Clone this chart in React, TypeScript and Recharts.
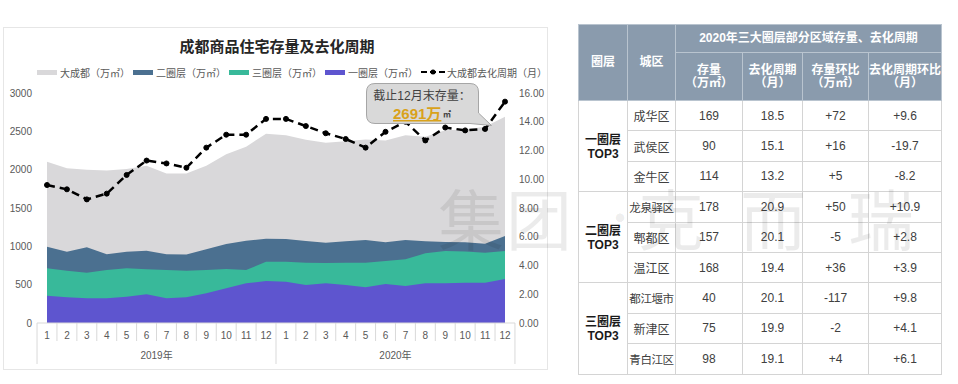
import React from "react"
import { ComposedChart, Area, Line, XAxis, YAxis, Legend } from "recharts"

// 左侧图：月份、年份
const monthLabels = ["1", "2", "3", "4", "5", "6", "7", "8", "9", "10", "11", "12", "1", "2", "3", "4", "5", "6", "7", "8", "9", "10", "11", "12"]
const yearLabels = ["2019年", "2020年"]

// 存量（万㎡）
const totalStock = [2103, 2020, 2000, 1990, 2010, 2050, 1950, 1950, 2050, 2200, 2300, 2470, 2450, 2390, 2350, 2370, 2395, 2380, 2450, 2430, 2515, 2525, 2560, 2691]
const ring2Stock = [995, 930, 987, 896, 930, 943, 896, 892, 961, 1030, 1073, 1100, 1095, 1069, 1047, 1065, 1082, 1052, 1082, 1065, 1056, 1052, 1034, 1134]
const ring3Stock = [713, 682, 656, 691, 713, 700, 691, 682, 691, 704, 691, 800, 800, 787, 783, 787, 787, 808, 830, 909, 939, 934, 917, 939]
const ring1Stock = [356, 335, 322, 322, 343, 374, 322, 335, 387, 452, 517, 548, 539, 496, 517, 496, 465, 509, 483, 517, 517, 526, 526, 574]
// 去化周期（月）
const cycleMonths = [9.6, 9.3, 8.6, 9.0, 10.3, 11.3, 11.1, 10.8, 12.2, 13.1, 13.1, 14.2, 14.2, 13.7, 13.2, 12.8, 12.2, 13.3, 14.0, 12.7, 13.6, 13.4, 13.5, 15.4]

const leftTicks = [0, 500, 1000, 1500, 2000, 2500, 3000]
const rightTicks = [0, 2, 4, 6, 8, 10, 12, 14, 16]

// 右侧表
const tableTitle = "2020年三大圈层部分区域存量、去化周期"
const subHeads = [["存量", "（万㎡）"], ["去化周期", "（月）"], ["存量环比", "（万㎡）"], ["去化周期环比", "（月）"]]
const rings = ["一圈层", "二圈层", "三圈层"]
const districts = ["成华区", "武侯区", "金牛区", "龙泉驿区", "郫都区", "温江区", "都江堰市", "新津区", "青白江区"]
const stock = ["169", "90", "114", "178", "157", "168", "40", "75", "98"]
const cycle = ["18.5", "15.1", "13.2", "20.9", "20.1", "19.4", "20.1", "19.9", "19.1"]
const stockChg = ["+72", "+16", "+5", "+50", "-5", "+36", "-117", "-2", "+4"]
const cycleChg = ["+9.6", "-19.7", "-8.2", "+10.9", "+2.8", "+3.9", "+9.8", "+4.1", "+6.1"]

const areaSeries = [
  { key: "total", name: "大成都（万㎡）", color: "#d9d8da" },
  { key: "ring2", name: "二圈层（万㎡）", color: "#4b7090" },
  { key: "ring3", name: "三圈层（万㎡）", color: "#38b99a" },
  { key: "ring1", name: "一圈层（万㎡）", color: "#5e55cf" },
]
const lineName = "大成都去化周期（月）"

const chartData = monthLabels.map((m, i) => ({
  m,
  total: totalStock[i],
  ring2: ring2Stock[i],
  ring3: ring3Stock[i],
  ring1: ring1Stock[i],
  cycle: cycleMonths[i],
}))

const FONT = "'Liberation Sans', 'Noto Sans CJK SC', sans-serif"
const CJK = "'Noto Sans CJK SC', sans-serif"
const PLOT_LEFT = 37
const PLOT_RIGHT = 515
const X_PAD = 10
const STEP = (PLOT_RIGHT - PLOT_LEFT - 2 * X_PAD) / (monthLabels.length - 1)

function MonthTick(props: any) {
  const { x, y, payload, index } = props
  const left = x - STEP / 2
  const right = x + STEP / 2
  const yearStart = index % 12 === 0
  const last = index === monthLabels.length - 1
  return (
    <g>
      <line x1={left} x2={left} y1={y} y2={y + (yearStart ? 41 : 18)} stroke="#d9d9d9" />
      {last && <line x1={right} x2={right} y1={y} y2={y + 41} stroke="#d9d9d9" />}
      <text x={x} y={y + 16} textAnchor="middle" fontSize={10} fill="#595959" fontFamily={FONT}>
        {payload.value}
      </text>
      {index % 12 === 5 && (
        <text x={right} y={y + 36} textAnchor="middle" fontSize={10} fill="#595959" fontFamily={FONT}>
          {yearLabels[Math.floor(index / 12)]}
        </text>
      )}
    </g>
  )
}

function ChartLegend() {
  return (
    <div style={{ display: "flex", alignItems: "center", height: 18, fontSize: 10, color: "#595959", fontFamily: CJK, whiteSpace: "nowrap" }}>
      {areaSeries.map((s) => (
        <span key={s.key} style={{ display: "flex", alignItems: "center", marginRight: 3 }}>
          <span style={{ display: "inline-block", width: 20, height: 5, background: s.color, marginRight: 3 }} />
          {s.name}
        </span>
      ))}
      <span style={{ display: "flex", alignItems: "center" }}>
        <svg width={24} height={8} style={{ marginRight: 2 }}>
          <line x1={0} y1={4} x2={24} y2={4} stroke="#000" strokeWidth={2} strokeDasharray="6 3" />
          <circle cx={12} cy={4} r={2.5} fill="#000" />
        </svg>
        {lineName}
      </span>
    </div>
  )
}

function Balloon() {
  return (
    <svg width={150} height={60} style={{ position: "absolute", left: 360, top: 80 }}>
      <path
        d="M15,3.5 H110 Q118.5,3.5 118.5,12 V33 L131.5,45.5 L110,43.5 H15 Q6.5,43.5 6.5,35 V12 Q6.5,3.5 15,3.5 Z"
        fill="#d9d9d9"
        stroke="#a6a6a6"
        strokeWidth={1}
      />
      <text x={62} y={20} textAnchor="middle" fontSize={12} fill="#404040" fontFamily={FONT}>
        截止12月末存量：
      </text>
      <text x={33} y={39} fontSize={15} fontWeight="bold" fill="#d9a21b" fontFamily={FONT} textDecoration="underline">
        2691万
      </text>
      <text x={83} y={37} fontSize={8} fontWeight="bold" fill="#404040" fontFamily={FONT}>
        ㎡
      </text>
    </svg>
  )
}

const hd: React.CSSProperties = {
  background: "#8a9bad",
  color: "#fff",
  fontWeight: "bold",
  fontSize: 12,
  lineHeight: "13px",
  border: "1px solid #b9c4cf",
  padding: 0,
  textAlign: "center",
  whiteSpace: "nowrap",
}
const td: React.CSSProperties = {
  fontSize: 12,
  color: "#404040",
  border: "1px solid #d4d4d4",
  padding: 0,
  textAlign: "center",
  height: 29.4,
  whiteSpace: "nowrap",
}

function DataTable() {
  const colWidths = [49, 48, 67, 60, 66, 73]
  return (
    <table
      style={{ position: "absolute", left: 578, top: 24, width: 363, borderCollapse: "collapse", tableLayout: "fixed", fontFamily: FONT }}
    >
      <colgroup>
        {colWidths.map((w, i) => (
          <col key={i} style={{ width: w }} />
        ))}
      </colgroup>
      <thead>
        <tr style={{ height: 28 }}>
          <th rowSpan={2} style={hd}>圈层</th>
          <th rowSpan={2} style={hd}>城区</th>
          <th colSpan={4} style={hd}>{tableTitle}</th>
        </tr>
        <tr style={{ height: 48 }}>
          {subHeads.map(([a, b]) => (
            <th key={a} style={hd}>
              {a}
              <br />
              {b}
            </th>
          ))}
        </tr>
      </thead>
      <tbody>
        {districts.map((d, i) => (
          <tr key={d}>
            {i % 3 === 0 && (
              <td rowSpan={3} style={{ ...td, fontWeight: "bold", color: "#1a1a1a", lineHeight: "14px", fontFamily: CJK }}>
                {rings[i / 3]}
                <br />
                <span style={{ fontFamily: FONT }}>TOP3</span>
              </td>
            )}
            <td style={{ ...td, fontFamily: CJK, fontSize: d.length > 3 ? 11.5 : 12, letterSpacing: d.length > 3 ? -0.4 : 0 }}>{d}</td>
            <td style={td}>{stock[i]}</td>
            <td style={td}>{cycle[i]}</td>
            <td style={td}>{stockChg[i]}</td>
            <td style={td}>{cycleChg[i]}</td>
          </tr>
        ))}
      </tbody>
    </table>
  )
}

export default function App() {
  return (
    <div style={{ position: "relative", width: 958, height: 384, background: "#fff", overflow: "hidden" }}>
      <style>{"body{margin:0}"}</style>
      <div style={{ position: "absolute", left: 3, top: 27, width: 543, height: 341, border: "1px solid #e6e6e6" }} />
      <div
        style={{ position: "absolute", left: 3, top: 35, width: 548, textAlign: "center", fontSize: 15, fontWeight: "bold", color: "#262626", fontFamily: CJK }}
      >
        成都商品住宅存量及去化周期
      </div>
      <div style={{ position: "absolute", left: 0, top: 0 }}>
        <ComposedChart width={548} height={384} data={chartData} margin={{ top: 75, right: 0, bottom: 11, left: 0 }}>
          <Legend verticalAlign="top" content={() => <ChartLegend />} wrapperStyle={{ top: 63, left: 37, width: 500 }} />
          <XAxis
            dataKey="m"
            interval={0}
            padding={{ left: X_PAD, right: X_PAD }}
            height={50}
            tickSize={0}
            tickMargin={0}
            tickLine={false}
            axisLine={{ stroke: "#d9d9d9" }}
            tick={<MonthTick />}
          />
          <YAxis
            yAxisId="left"
            width={PLOT_LEFT}
            domain={[0, 3000]}
            ticks={leftTicks}
            axisLine={false}
            tickLine={false}
            tickSize={0}
            tickMargin={5}
            tick={{ fontSize: 10, fill: "#595959", fontFamily: FONT }}
          />
          <YAxis
            yAxisId="right"
            orientation="right"
            width={548 - PLOT_RIGHT}
            domain={[0, 16]}
            ticks={rightTicks}
            axisLine={false}
            tickLine={false}
            tickSize={0}
            tickMargin={4}
            tickFormatter={(v: number) => v.toFixed(2)}
            tick={{ fontSize: 10, fill: "#595959", fontFamily: FONT, textAnchor: "start" }}
          />
          {areaSeries.map((s) => (
            <Area
              key={s.key}
              yAxisId="left"
              type="linear"
              dataKey={s.key}
              name={s.name}
              fill={s.color}
              fillOpacity={1}
              stroke="none"
              isAnimationActive={false}
            />
          ))}
          <Line
            yAxisId="right"
            type="linear"
            dataKey="cycle"
            name={lineName}
            stroke="#000"
            strokeWidth={2.5}
            strokeDasharray="8 5"
            dot={{ r: 2.5, fill: "#000", stroke: "#000", strokeWidth: 1, strokeDasharray: "" }}
            activeDot={false}
            isAnimationActive={false}
          />
        </ComposedChart>
      </div>
      <Balloon />
      <DataTable />
      <div
        style={{ position: "absolute", left: 0, top: 0, width: 958, height: 384, pointerEvents: "none", fontFamily: CJK, fontSize: 66, color: "rgba(0,0,0,0.08)" }}
      >
        <span style={{ position: "absolute", left: 438, top: 168 }}>集</span>
        <span style={{ position: "absolute", left: 506, top: 168 }}>团</span>
        <span style={{ position: "absolute", left: 600, top: 168, fontSize: 40, lineHeight: "96px" }}>·</span>
        <span style={{ position: "absolute", left: 638, top: 168 }}>克</span>
        <span style={{ position: "absolute", left: 740, top: 168 }}>而</span>
        <span style={{ position: "absolute", left: 848, top: 168 }}>瑞</span>
      </div>
    </div>
  )
}
